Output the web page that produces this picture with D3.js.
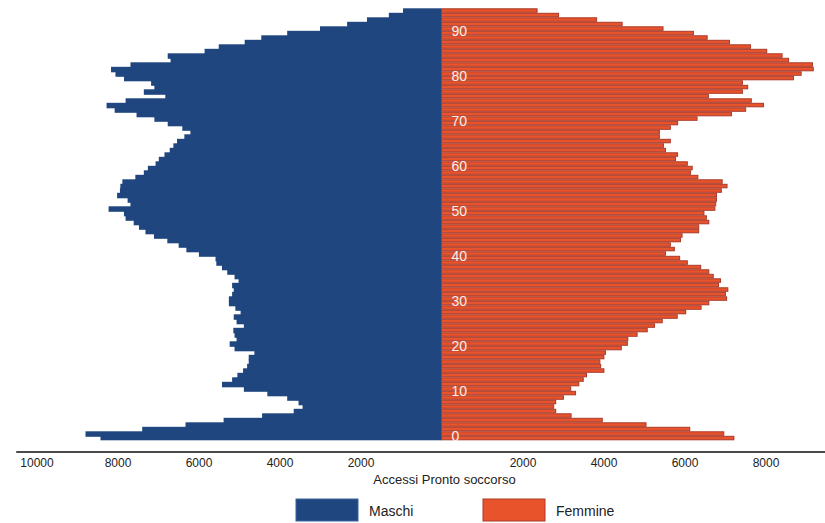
<!DOCTYPE html>
<html>
<head>
<meta charset="utf-8">
<script src="https://cdn.jsdelivr.net/npm/d3@7"></script>
<style>
  html, body { margin: 0; padding: 0; background: #ffffff; }
  svg { display: block; font-family: "Liberation Sans", Arial, sans-serif; }
</style>
</head>
<body>
<svg id="chart" width="825" height="523"></svg>
<script>
// ---- data (ages 0..95) ----
const ages = d3.range(0, 96);
const maschi = [
  8420, 8790, 7390, 6320, 5380, 4430, 3650, 3430, 3530, 3810,
  4300, 4880, 5420, 5170, 5040, 4900, 4800, 4760, 4760, 4620,
  5110, 5230, 5060, 5110, 5140, 4880, 5060, 5130, 4960, 5090,
  5250, 5250, 5170, 5130, 5170, 5010, 5110, 5290, 5420, 5560,
  5580, 5990, 6300, 6490, 6770, 7100, 7310, 7470, 7600, 7800,
  7840, 8220, 7680, 7750, 8010, 7940, 7930, 7880, 7560, 7350,
  7250, 7060, 6980, 6840, 6710, 6620, 6530, 6350, 6200, 6400,
  6760, 7090, 7530, 8070, 8270, 7800, 6820, 7350, 7090, 7170,
  7840, 8050, 8160, 7680, 6690, 6760, 5850, 5500, 4860, 4450,
  3810, 3000, 2330, 1840, 1300, 950
];
const femmine = [
  7220, 6970, 6130, 5050, 3970, 3200, 2820, 2770, 2820, 3010,
  3310, 3190, 3390, 3500, 3580, 4010, 3930, 3910, 4010, 4050,
  4440, 4590, 4600, 4830, 5080, 5260, 5450, 5820, 6030, 6410,
  6600, 7040, 7010, 7070, 6840, 6890, 6710, 6600, 6400, 6070,
  5880, 5530, 5750, 5650, 5900, 5940, 6350, 6350, 6600, 6540,
  6480, 6750, 6770, 6790, 6790, 6910, 7050, 6930, 6330, 6150,
  6190, 6070, 5780, 5830, 5530, 5480, 5650, 5380, 5380, 5650,
  5830, 6310, 7160, 7510, 7950, 7650, 6590, 7430, 7560, 7430,
  8690, 8880, 9180, 9160, 8570, 8410, 8030, 7630, 7110, 6560,
  6220, 5470, 4460, 3830, 2890, 2360
];
const ageTicks = [0, 10, 20, 30, 40, 50, 60, 70, 80, 90];
const leftTicks = [2000, 4000, 6000, 8000, 10000];
const rightTicks = [2000, 4000, 6000, 8000];
const seriesNames = ["Maschi", "Femmine"];
const xTitle = "Accessi Pronto soccorso";

// ---- layout ----
const cx = 441.5;
const pxPerUnit = 0.0405;
const colM = "#1f467e", colF = "#e9532b", strokeF = "#a93a2b";

const svg = d3.select("#chart");

const xL = d3.scaleLinear().domain([0, 10000]).range([cx, cx - 10000 * pxPerUnit]);
const xR = d3.scaleLinear().domain([0, 10000]).range([cx, cx + 10000 * pxPerUnit]);
const y = d3.scaleBand().domain(ages.slice().reverse()).range([8.3, 440.3]).padding(0);

// male bars (slight overlap so no seams appear between adjacent bars)
svg.append("g").selectAll("rect").data(ages).join("rect")
  .attr("x", a => xL(maschi[a]))
  .attr("y", a => y(a))
  .attr("width", a => xL(0) - xL(maschi[a]))
  .attr("height", a => a === 0 ? y.bandwidth() : y.bandwidth() + 1)
  .attr("fill", colM);

// female bars
svg.append("g").selectAll("rect").data(ages).join("rect")
  .attr("x", xR(0))
  .attr("y", a => y(a) + 0.5)
  .attr("width", a => xR(femmine[a]) - xR(0))
  .attr("height", y.bandwidth() - 1)
  .attr("fill", colF)
  .attr("stroke", strokeF)
  .attr("stroke-width", 1);

// age labels
svg.append("g").selectAll("text").data(ageTicks).join("text")
  .attr("x", cx + 10)
  .attr("y", a => y(a) + y.bandwidth() / 2 - 2)
  .attr("dy", "0.35em")
  .attr("font-size", 14)
  .attr("fill", "#f6f0ea")
  .text(d => d);

// x axis
const axisY = 452;
svg.append("line")
  .attr("x1", xL(10500)).attr("x2", 825)
  .attr("y1", axisY).attr("y2", axisY)
  .attr("stroke", "#4a4a4a").attr("stroke-width", 2);

const gL = svg.append("g").attr("transform", `translate(0,${axisY})`)
  .call(d3.axisBottom(xL).tickValues(leftTicks).tickSize(0).tickPadding(6).tickFormat(d3.format("d")));
const gR = svg.append("g").attr("transform", `translate(0,${axisY})`)
  .call(d3.axisBottom(xR).tickValues(rightTicks).tickSize(0).tickPadding(6).tickFormat(d3.format("d")));
[gL, gR].forEach(g => {
  g.select(".domain").remove();
  g.selectAll("text").attr("font-size", 12).attr("fill", "#222")
    .attr("font-family", "'Liberation Sans', Arial, sans-serif");
});

svg.append("text")
  .attr("x", cx + 3).attr("y", 484)
  .attr("text-anchor", "middle")
  .attr("font-size", 13).attr("fill", "#222")
  .text(xTitle);

// legend
const legend = svg.append("g");
const legItems = [
  { name: seriesNames[0], fill: colM, stroke: "#3a64a0", x: 296 },
  { name: seriesNames[1], fill: colF, stroke: strokeF, x: 483 }
];
legItems.forEach(it => {
  legend.append("rect").attr("x", it.x).attr("y", 499).attr("width", 62).attr("height", 22)
    .attr("fill", it.fill).attr("stroke", it.stroke).attr("stroke-width", 1);
  legend.append("text").attr("x", it.x + 73).attr("y", 516)
    .attr("font-size", 14).attr("fill", "#222").text(it.name);
});
</script>
</body>
</html>
